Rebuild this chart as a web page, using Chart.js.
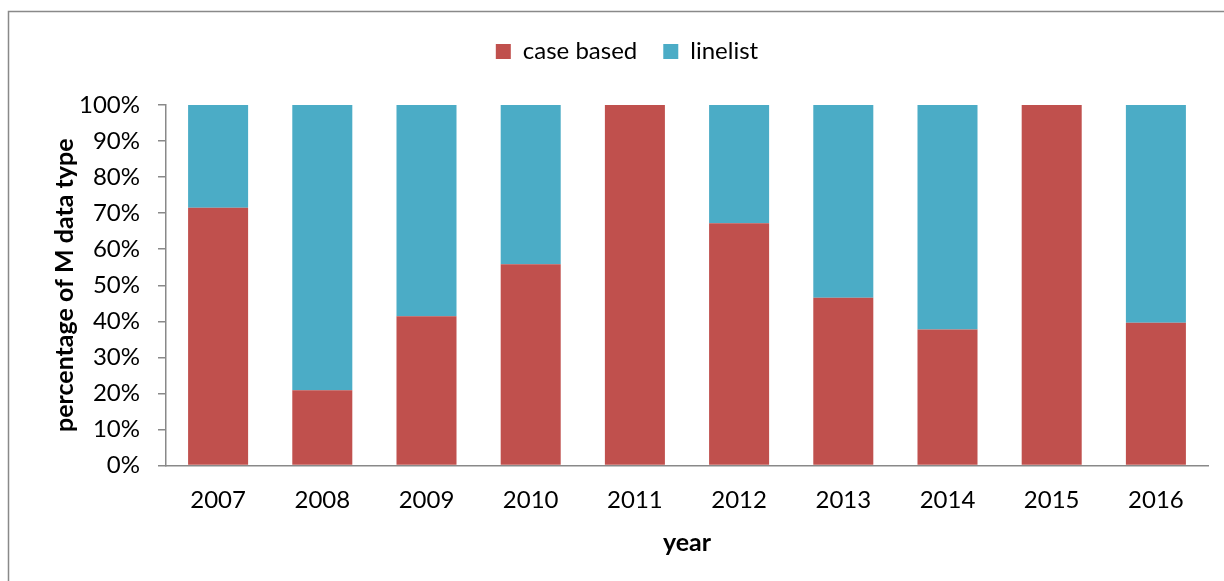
<!DOCTYPE html>
<html>
<head>
<meta charset="utf-8">
<script src="https://cdn.jsdelivr.net/npm/chart.js@4"></script>
<style>
  html, body { margin: 0; padding: 0; background: #fff; }
  #wrap { width: 1224px; height: 581px; position: relative; }
</style>
</head>
<body>
<div id="wrap"><canvas id="chart" width="1224" height="581"></canvas></div>
<script>
// share of each M data type per year (%)
const years = ['2007', '2008', '2009', '2010', '2011', '2012', '2013', '2014', '2015', '2016'];
const caseBased = [71.5, 20.9, 41.4, 55.8, 100, 67.2, 46.5, 37.7, 100, 39.6];
const lineList = [28.5, 79.1, 58.6, 44.2, 0, 32.8, 53.5, 62.3, 0, 60.4];
const yTicks = [0, 10, 20, 30, 40, 50, 60, 70, 80, 90, 100];

const FONT = "Lato, 'Open Sans', sans-serif";
const AXIS_GREY = '#898989';
const PAD_LEFT = 46;

// outer frame like the spreadsheet chart box
const frame = {
  id: 'frame',
  beforeDraw(chart) {
    const ctx = chart.ctx;
    ctx.save();
    ctx.strokeStyle = AXIS_GREY;
    ctx.lineWidth = 1.5;
    ctx.beginPath();
    ctx.moveTo(8.5, chart.height + 5);
    ctx.lineTo(8.5, 11.5);
    ctx.lineTo(chart.width + 5, 11.5);
    ctx.stroke();
    ctx.restore();
  }
};

// leave extra room between legend and plot
const legendGap = {
  id: 'legendGap',
  beforeLayout(chart) {
    const lg = chart.legend;
    if (lg && !lg._gapPatched) {
      const fit = lg.fit;
      lg.fit = function () {
        fit.call(this);
        this.height += 31.5;
      };
      lg._gapPatched = true;
    }
  }
};

new Chart(document.getElementById('chart'), {
  type: 'bar',
  data: {
    labels: years,
    datasets: [
      { label: 'case based', data: caseBased, backgroundColor: '#C0504D', barPercentage: 0.576, categoryPercentage: 1 },
      { label: 'linelist', data: lineList, backgroundColor: '#4BACC6', barPercentage: 0.576, categoryPercentage: 1 }
    ]
  },
  options: {
    responsive: false,
    animation: false,
    layout: { padding: { top: 13.5, left: PAD_LEFT, right: 16, bottom: 0 } },
    plugins: {
      tooltip: { enabled: false },
      legend: {
        position: 'top',
        labels: {
          boxWidth: 15,
          boxHeight: 15,
          padding: 26,
          color: '#000',
          font: { family: FONT, size: 24 }
        }
      }
    },
    scales: {
      x: {
        stacked: true,
        grid: { display: false, drawTicks: false, tickLength: 0 },
        border: { display: true, color: AXIS_GREY, width: 1.5 },
        ticks: { color: '#000', padding: 20, font: { family: FONT, size: 24 } },
        title: {
          display: true,
          text: 'year',
          color: '#000',
          padding: { top: 4, bottom: 23 },
          font: { family: FONT, size: 25, weight: 'bold' }
        },
        afterFit(scale) { scale.height = 115.5; }
      },
      y: {
        stacked: true,
        min: 0,
        max: 100,
        afterBuildTicks(scale) { scale.ticks = yTicks.map(v => ({ value: v })); },
        grid: { drawOnChartArea: false, drawTicks: true, tickLength: 8, color: AXIS_GREY, lineWidth: 1.5 },
        border: { display: true, color: AXIS_GREY, width: 1.5 },
        ticks: {
          color: '#000',
          padding: 18,
          font: { family: FONT, size: 24 },
          callback: v => v + '%'
        },
        title: {
          display: true,
          text: 'percentage of M data type',
          color: '#000',
          padding: { top: 4, bottom: 4 },
          font: { family: FONT, size: 25, weight: 'bold' }
        },
        afterFit(scale) { scale.width = 166 - PAD_LEFT; }
      }
    }
  },
  plugins: [frame, legendGap]
});
</script>
</body>
</html>
